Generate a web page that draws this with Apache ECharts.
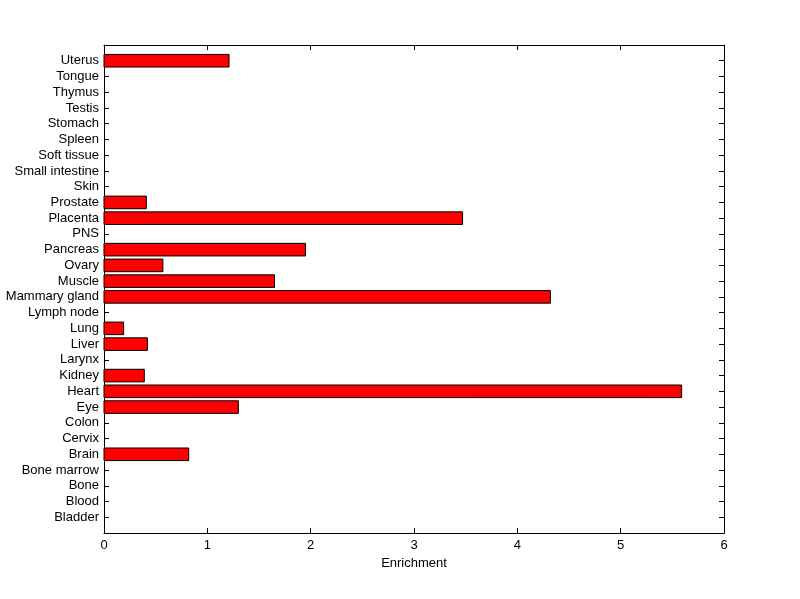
<!DOCTYPE html>
<html>
<head>
<meta charset="utf-8">
<script src="https://cdn.jsdelivr.net/npm/echarts@6/dist/echarts.min.js"></script>
<style>html,body{margin:0;padding:0;background:#fff;}#c{width:800px;height:599px;}</style>
</head>
<body>
<div id="c"></div>
<script>
const categories = ["Bladder","Blood","Bone","Bone marrow","Brain","Cervix","Colon","Eye","Heart","Kidney","Larynx","Liver","Lung","Lymph node","Mammary gland","Muscle","Ovary","Pancreas","PNS","Placenta","Prostate","Skin","Small intestine","Soft tissue","Spleen","Stomach","Testis","Thymus","Tongue","Uterus"];
const enrichment = [0,0,0,0,0.82,0,0,1.30,5.59,0.39,0,0.42,0.19,0,4.32,1.65,0.57,1.95,0,3.47,0.41,0,0,0,0,0,0,0,0,1.21];
const xTicks = [0,1,2,3,4,5,6];

const font = 'Liberation Sans, Arial, Helvetica, sans-serif';
const chart = echarts.init(document.getElementById('c'), null, {renderer:'canvas'});
const axisLine = {show:true, onZero:false, lineStyle:{color:'#000', width:1}};
const tick = {show:true, inside:true, length:5, lineStyle:{color:'#000', width:1}};
const yMax = categories.length + 1;
const yLabel = v => (v >= 1 && v <= categories.length) ? categories[v-1] : '';
chart.setOption({
  animation:false,
  backgroundColor:'#fff',
  grid:{left:104, right:76, top:45, bottom:66, containLabel:false},
  xAxis:[{
    type:'value', min:xTicks[0], max:xTicks[xTicks.length-1], interval:1, position:'bottom',
    axisLine:axisLine, axisTick:tick,
    axisLabel:{color:'#000', fontFamily:font, fontSize:13, margin:6, formatter:v=>String(v)},
    splitLine:{show:false},
    name:'Enrichment', nameLocation:'middle', nameGap:23,
    nameTextStyle:{color:'#000', fontFamily:font, fontSize:13}
  },{
    type:'value', min:xTicks[0], max:xTicks[xTicks.length-1], interval:1, position:'top',
    axisLine:axisLine, axisTick:tick,
    axisLabel:{show:false}, splitLine:{show:false}
  }],
  yAxis:[{
    type:'value', min:0, max:yMax, interval:1, position:'left',
    axisLine:axisLine, axisTick:tick,
    axisLabel:{color:'#000', fontFamily:font, fontSize:13, margin:5, formatter:yLabel, showMinLabel:false, showMaxLabel:false},
    splitLine:{show:false}
  },{
    type:'value', min:0, max:yMax, interval:1, position:'right',
    axisLine:axisLine, axisTick:tick,
    axisLabel:{show:false}, splitLine:{show:false}
  }],
  series:[{
    type:'custom', xAxisIndex:0, yAxisIndex:0,
    data:enrichment.map((v,i)=>[v,i+1]),
    encode:{x:0, y:1},
    renderItem:function(params, api){
      const v = api.value(0), y = api.value(1);
      if (!v) return null;
      const p0 = api.coord([0, y]);
      const p1 = api.coord([v, y]);
      const h = api.size([0, 0.8])[1];
      return {
        type:'rect',
        shape:{x:p0[0], y:p0[1]-h/2, width:p1[0]-p0[0], height:h},
        style:{fill:'#ff0000', stroke:'#000', lineWidth:1}
      };
    }
  }]
});
</script>
</body>
</html>
